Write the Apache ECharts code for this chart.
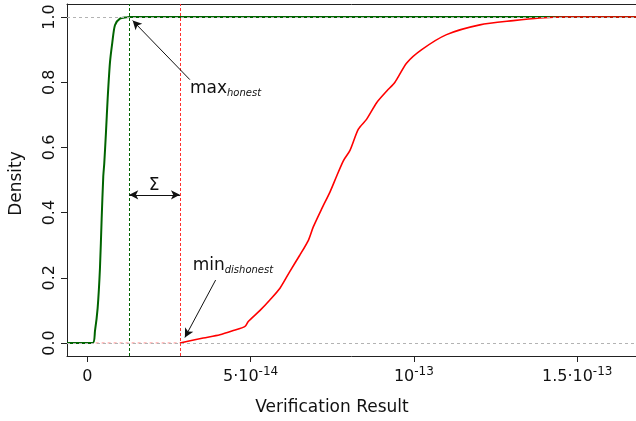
<!DOCTYPE html>
<html><head><meta charset="utf-8">
<script src="https://cdn.jsdelivr.net/npm/echarts@6/dist/echarts.min.js"></script>
<style>html,body{margin:0;padding:0;background:#fff}#c{width:636px;height:421px}</style>
</head><body><div id="c"></div>
<script>
// x values are in units of 1e-14
const honestX = [0.165, 0.236, 0.318, 0.389, 0.441, 0.49, 0.52, 0.573, 0.625, 0.695, 0.765, 0.848, 1.0, 1.2, 1.286];
const honestY = [0, 0.036, 0.107, 0.229, 0.381, 0.51, 0.55, 0.646, 0.75, 0.86, 0.92, 0.975, 0.995, 0.999, 1.0];
const dishonestX = [2.838, 3.55, 4.06, 4.47, 4.83, 4.93, 5.29, 5.59, 5.9, 6.2, 6.51, 6.77, 6.92, 7.18, 7.43, 7.64, 7.84, 8.04, 8.30, 8.55, 8.86, 9.17, 9.42, 9.78, 10.24, 11.0, 12.02, 13.04, 13.86, 14.68];
const dishonestY = [0, 0.015, 0.025, 0.038, 0.051, 0.066, 0.10, 0.132, 0.168, 0.219, 0.27, 0.315, 0.356, 0.412, 0.463, 0.513, 0.559, 0.59, 0.656, 0.686, 0.737, 0.773, 0.80, 0.859, 0.9, 0.946, 0.976, 0.989, 0.997, 1.0];
const xTickValues = [0, 5, 10, 15];
const xTickMantissa = ['0', '5·10', '10', '1.5·10'];
const xTickExponent = ['', '-14', '-13', '-13'];
const yTickValues = [0, 0.2, 0.4, 0.6, 0.8, 1.0];
const xRange = [-0.62, 16.8];
const yRange = [-0.04, 1.04];
// annotations (data coordinates)
const maxArrow = [[3.14, 0.808], [1.39, 0.989]];
const minArrow = [[3.93, 0.193], [2.99, 0.017]];
const sigmaArrowY = 0.4545;
const maxLabelAt = [3.145, 0.7627];
const minLabelAt = [3.227, 0.2187];
const sigmaLabelAt = [2.05, 0.4646];

const FONT = 'DejaVu Sans';
const chart = echarts.init(document.getElementById('c'), null, {renderer: 'canvas'});

const honestData = [[xRange[0], 0]].concat(honestX.map((x, i) => [x, honestY[i]])).concat([[xRange[1], 1]]);
const dishonestData = dishonestX.map((x, i) => [x, dishonestY[i]]).concat([[xRange[1], 1]]);
const honestMax = honestX[honestX.length - 1];
const dishonestMin = dishonestX[0];

const axisColor = '#222';
const option = {
  animation: false,
  backgroundColor: '#fff',
  grid: {left: 67, right: 0, top: 4, bottom: 64, containLabel: false},
  xAxis: [{
    type: 'value', min: xRange[0], max: xRange[1], position: 'bottom',
    axisLine: {show: true, onZero: false, lineStyle: {color: axisColor, width: 1}},
    axisTick: {show: true, length: 6, customValues: xTickValues, lineStyle: {color: axisColor}},
    splitLine: {show: false},
    axisLabel: {
      customValues: xTickValues, margin: 10, lineHeight: 19, color: '#111',
      formatter: function (v) {
        const i = xTickValues.findIndex(t => Math.abs(t - v) < 1e-6);
        if (i < 0) return '';
        return '{m|' + xTickMantissa[i] + '}' + (xTickExponent[i] ? '{s|' + xTickExponent[i] + '}' : '');
      },
      rich: {
        m: {fontSize: 16, fontFamily: FONT, color: '#111', verticalAlign: 'bottom', lineHeight: 19},
        s: {fontSize: 12, fontFamily: FONT, color: '#111', verticalAlign: 'top', lineHeight: 19}
      }
    },
    name: 'Verification Result', nameLocation: 'middle', nameGap: 43,
    nameTextStyle: {fontSize: 17, fontFamily: FONT, color: '#111', padding: [0, 39, 0, 0]}
  }, {
    type: 'value', min: xRange[0], max: xRange[1], position: 'top',
    axisLine: {show: true, onZero: false, lineStyle: {color: axisColor, width: 1}},
    axisTick: {show: false}, axisLabel: {show: false}, splitLine: {show: false}
  }],
  yAxis: {
    type: 'value', min: yRange[0], max: yRange[1],
    axisLine: {show: true, onZero: false, lineStyle: {color: axisColor, width: 1}},
    axisTick: {show: true, length: 6, customValues: yTickValues, lineStyle: {color: axisColor}},
    splitLine: {show: false},
    axisLabel: {
      customValues: yTickValues, rotate: 90, margin: 9, fontSize: 16, fontFamily: FONT, color: '#111',
      formatter: v => v.toFixed(1)
    },
    name: 'Density', nameLocation: 'middle', nameGap: 42, nameRotate: 90,
    nameTextStyle: {fontSize: 17, fontFamily: FONT, color: '#111', padding: [0, 7, 0, 0]}
  },
  series: [
    {
      name: 'honest', type: 'line', data: honestData, showSymbol: false, symbol: 'none',
      smooth: 0.25,
      lineStyle: {color: '#006400', width: 2}, z: 3, silent: true
    },
    {
      name: 'dishonest-zero', type: 'line', data: [[honestX[0], 0], [dishonestMin, 0]], symbol: 'none',
      lineStyle: {color: 'rgba(255,60,60,0.6)', width: 1, type: [3, 3], dashOffset: 3}, z: 4, silent: true
    },
    {
      name: 'dishonest', type: 'line', data: dishonestData, showSymbol: false, symbol: 'none',
      smooth: 0.25,
      lineStyle: {color: '#ff0000', width: 1.6}, z: 4, silent: true,
      markLine: {
        silent: true, animation: false, symbol: 'none', label: {show: false},
        data: [
          {xAxis: honestMax, lineStyle: {color: '#006400', type: [3, 2], width: 1}},
          {xAxis: dishonestMin, lineStyle: {color: '#ff3030', type: [3, 2], width: 1}},
          {yAxis: 0, lineStyle: {color: '#b3b3b3', type: [3, 3], width: 1}},
          {yAxis: 1, lineStyle: {color: '#b3b3b3', type: [3, 3], width: 1}},
          [{coord: maxArrow[0], symbol: 'none'}, {coord: maxArrow[1], symbol: 'arrow', symbolSize: [7, 9]}].map(p => Object.assign(p, {lineStyle: {color: '#111', type: 'solid', width: 1}})),
          [{coord: minArrow[0], symbol: 'none'}, {coord: minArrow[1], symbol: 'arrow', symbolSize: [7, 9]}].map(p => Object.assign(p, {lineStyle: {color: '#111', type: 'solid', width: 1}})),
          [{coord: [honestMax, sigmaArrowY], symbol: 'arrow', symbolSize: [7, 9]}, {coord: [dishonestMin, sigmaArrowY], symbol: 'arrow', symbolSize: [7, 9]}].map(p => Object.assign(p, {lineStyle: {color: '#111', type: 'solid', width: 1}}))
        ]
      }
    }
  ]
};
chart.setOption(option);

function px(p) { return chart.convertToPixel({gridIndex: 0}, p); }
const annRich = {
  m: {fontSize: 17, fontFamily: FONT, fill: '#111', verticalAlign: 'top', lineHeight: 18.5},
  s: {fontSize: 10, fontFamily: FONT, fontStyle: 'italic', fill: '#111', verticalAlign: 'bottom', lineHeight: 18.5}
};
const pMax = px(maxLabelAt), pMin = px(minLabelAt), pSig = px(sigmaLabelAt);
chart.setOption({
  graphic: [
    {type: 'text', x: pMax[0], y: pMax[1] - 14.4, z: 10, style: {text: '{m|max}{s|honest}', rich: annRich, align: 'left', verticalAlign: 'top'}},
    {type: 'text', x: pMin[0], y: pMin[1] - 14.4, z: 10, style: {text: '{m|min}{s|dishonest}', rich: annRich, align: 'left', verticalAlign: 'top'}},
    {type: 'text', x: pSig[0], y: pSig[1] - 6, z: 10, style: {text: 'Σ', fontSize: 17, fontFamily: FONT, fill: '#111', align: 'center', verticalAlign: 'middle'}}
  ]
});
</script>
</body></html>
